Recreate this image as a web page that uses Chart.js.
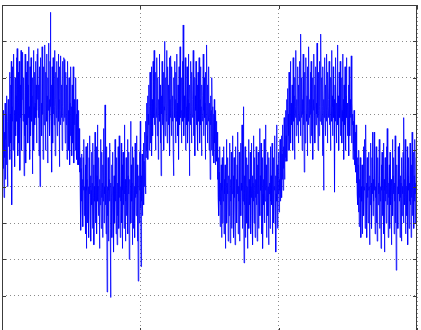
<!DOCTYPE html>
<html>
<head>
<meta charset="utf-8">
<script src="https://cdn.jsdelivr.net/npm/chart.js@4"></script>
<style>
  html, body { margin: 0; padding: 0; background: #fff; overflow: hidden; }
  #wrap { width: 421px; height: 330px; overflow: hidden; }
</style>
</head>
<body>
<div id="wrap"><canvas id="chart" width="421" height="337"></canvas></div>
<script>
// sample values (about three samples per pixel)
const signal = [
  4.8, 5.7, 4.0, 6.1, 4.5, 5.2, 3.7, 5.5, 4.8, 6.3, 4.2, 5.3, 6.0, 4.6, 6.5, 4.9, 4.0, 5.8, 6.4, 5.1,
  6.4, 5.7, 7.15, 4.75, 6.0, 6.8, 5.2, 7.45, 3.5, 6.2, 5.8, 7.3, 5.0, 6.3, 7.65, 5.9, 6.1, 4.55, 7.0, 6.2,
  5.4, 6.5, 7.55, 5.8, 7.8, 6.0, 4.85, 7.15, 6.3, 5.2, 7.45, 6.1, 4.45, 6.8, 5.9, 7.75, 6.2, 5.0, 6.4, 7.3,
  7.7, 5.8, 6.2, 7.0, 4.3, 6.0, 5.4, 7.65, 6.4, 4.65, 7.15, 6.1, 5.7, 7.45, 6.3, 5.2, 6.8, 7.85, 5.9, 6.2,
  4.75, 7.3, 6.0, 5.4, 7.55, 6.4, 5.8, 6.5, 4.35, 7.0, 6.1, 7.75, 5.0, 6.2, 7.15, 5.7, 6.3, 7.45, 5.9, 6.8,
  5.2, 6.1, 7.65, 6.4, 7.8, 5.9, 6.8, 4.85, 7.3, 6.2, 4.0, 6.5, 7.55, 5.8, 6.3, 5.4, 7.85, 6.0, 7.0, 4.75,
  6.4, 7.3, 5.7, 6.2, 7.9, 6.0, 5.0, 7.15, 6.3, 7.65, 5.8, 6.5, 4.65, 7.0, 6.1, 7.95, 5.9, 6.4, 5.4, 7.45,
  8.8, 6.2, 5.8, 6.8, 4.4, 7.3, 6.3, 5.2, 7.55, 6.0, 6.5, 5.7, 7.75, 6.2, 4.85, 7.15, 6.4, 5.9, 7.45, 6.1,
  5.4, 7.0, 6.2, 7.65, 5.8, 6.4, 4.55, 7.3, 6.1, 5.7, 7.6, 6.3, 5.9, 6.8, 5.0, 7.45, 6.2, 5.8, 6.5, 7.55,
  7.5, 5.9, 6.3, 5.2, 7.15, 6.0, 5.7, 6.8, 4.75, 6.4, 7.45, 5.8, 6.1, 5.0, 7.0, 6.0, 4.6, 6.3, 5.4, 7.3,
  5.8, 6.2, 4.85, 6.8, 6.0, 5.2, 7.3, 5.9, 4.65, 6.4, 5.7, 6.1, 5.0, 7.0, 5.4, 6.0, 4.75, 6.4, 4.6, 5.8,
  5.3, 6.1, 4.6, 5.6, 4.4, 5.2, 4.0, 4.8, 2.8, 4.5, 3.6, 4.9, 3.3, 4.2, 2.9, 4.8, 3.9, 5.3, 3.2, 4.0,
  3.6, 4.6, 2.7, 5.1, 2.3, 3.9, 4.2, 3.0, 5.2, 3.7, 4.0, 2.6, 4.8, 3.8, 5.4, 3.2, 4.3, 2.5, 3.9, 4.95,
  3.5, 4.1, 2.85, 5.2, 3.7, 4.6, 2.4, 4.0, 3.6, 5.5, 3.0, 4.2, 3.9, 5.1, 2.7, 4.3, 5.7, 3.6, 4.0, 3.2,
  4.8, 3.8, 2.3, 4.2, 3.5, 5.3, 3.9, 2.85, 4.95, 3.7, 4.1, 2.6, 4.6, 3.6, 5.6, 3.0, 4.0, 3.8, 6.25, 3.5,
  4.3, 2.7, 5.1, 3.8, 1.1, 4.0, 3.2, 4.8, 2.5, 3.9, 4.2, 3.6, 5.2, 2.85, 0.95, 4.1, 3.7, 4.6, 2.6, 3.8,
  4.95, 3.5, 4.0, 2.2, 4.3, 3.9, 3.0, 5.3, 3.6, 4.2, 2.7, 4.8, 3.8, 2.4, 4.1, 3.2, 5.1, 3.9, 2.85, 5.4,
  3.7, 4.3, 2.6, 4.0, 3.6, 5.2, 3.0, 4.6, 2.3, 3.9, 4.95, 3.5, 4.1, 2.85, 5.7, 3.8, 4.2, 2.5, 3.6, 4.8,
  3.2, 4.0, 3.7, 5.3, 2.7, 4.3, 3.8, 4.95, 2.0, 3.5, 4.2, 3.9, 5.8, 3.0, 4.6, 3.6, 4.1, 2.4, 5.1, 3.9,
  2.85, 4.8, 3.6, 4.0, 2.6, 5.2, 3.7, 4.2, 3.2, 5.4, 3.8, 4.6, 2.5, 4.1, 1.4, 3.6, 4.3, 3.0, 4.95, 3.9,
  5.8, 3.4, 1.8, 4.3, 3.6, 4.9, 3.2, 4.2, 3.9, 5.2, 3.5, 4.7, 4.0, 5.5, 4.6, 3.8, 5.8, 4.8, 6.3, 5.0,
  5.4, 6.5, 4.75, 6.0, 5.7, 6.8, 5.0, 6.2, 7.15, 5.2, 6.1, 5.8, 7.3, 4.85, 6.4, 6.0, 5.4, 7.45, 6.2, 5.9,
  7.75, 5.7, 6.5, 6.0, 5.0, 7.15, 6.2, 5.9, 7.55, 5.4, 6.3, 7.0, 4.75, 6.4, 6.0, 7.65, 5.8, 6.8, 5.2, 6.1,
  4.3, 6.5, 6.0, 7.45, 5.7, 6.3, 5.9, 7.15, 5.0, 6.2, 8.0, 6.1, 5.4, 7.0, 6.3, 5.8, 7.75, 6.0, 5.2, 7.3,
  6.2, 5.7, 6.8, 6.0, 7.55, 4.85, 6.4, 5.9, 7.6, 6.2, 5.4, 7.3, 6.1, 5.8, 6.5, 5.0, 4.3, 7.0, 6.3, 7.45,
  5.9, 6.4, 5.2, 7.15, 6.1, 7.65, 5.8, 6.3, 5.4, 6.8, 6.0, 4.75, 7.3, 6.2, 5.7, 7.85, 6.4, 5.9, 6.1, 5.2,
  7.0, 6.0, 7.45, 5.8, 8.45, 6.3, 5.4, 6.5, 6.1, 5.9, 7.55, 5.0, 6.8, 6.2, 5.7, 7.3, 6.0, 5.2, 6.4, 7.65,
  5.8, 6.3, 4.3, 6.8, 6.1, 5.7, 7.45, 6.2, 5.2, 7.15, 6.0, 5.9, 6.4, 7.75, 5.4, 6.2, 5.8, 7.0, 4.85, 6.5,
  6.1, 7.45, 5.7, 6.3, 5.9, 6.8, 5.0, 7.15, 6.2, 5.8, 7.55, 6.0, 5.2, 6.4, 7.3, 5.7, 6.2, 4.85, 6.8, 6.0,
  5.8, 6.5, 7.65, 5.4, 6.1, 7.0, 5.9, 6.3, 4.75, 7.15, 6.0, 5.7, 7.9, 6.2, 5.2, 6.8, 6.0, 5.8, 7.3, 5.0,
  6.3, 5.9, 4.2, 6.5, 5.7, 6.1, 5.0, 7.0, 5.8, 4.85, 6.2, 5.4, 6.0, 4.65, 6.4, 5.2, 5.9, 4.6, 6.1, 5.0,
  5.8, 4.7, 5.5, 4.2, 5.1, 3.7, 4.8, 3.2, 4.4, 3.6, 5.1, 2.9, 4.1, 3.5, 4.6, 2.6, 3.9, 4.8, 3.0, 4.0,
  3.6, 5.1, 2.7, 4.2, 3.8, 4.6, 2.3, 4.0, 3.5, 5.3, 3.0, 4.1, 3.8, 4.8, 2.5, 3.7, 4.3, 3.2, 5.2, 3.9,
  2.45, 4.2, 3.6, 4.95, 2.85, 4.0, 3.8, 5.4, 3.2, 4.3, 2.6, 4.8, 3.7, 4.1, 2.4, 3.9, 5.1, 3.5, 4.2, 3.0,
  4.6, 3.8, 5.5, 2.7, 4.0, 3.6, 4.95, 2.5, 4.2, 3.7, 5.2, 3.2, 4.1, 3.9, 5.7, 2.85, 4.6, 3.6, 6.2, 3.8,
  1.9, 4.3, 3.5, 5.1, 2.6, 4.1, 3.8, 4.8, 3.0, 4.0, 2.3, 4.6, 3.6, 5.3, 2.85, 4.2, 3.9, 3.5, 4.95, 2.7,
  4.0, 3.7, 5.2, 3.2, 4.3, 2.4, 4.1, 3.6, 5.4, 3.0, 4.8, 3.9, 2.6, 4.2, 3.7, 5.1, 3.5, 4.0, 2.5, 4.6,
  3.8, 4.95, 2.85, 4.1, 3.6, 5.6, 3.2, 4.3, 3.9, 5.2, 2.7, 4.0, 3.7, 4.8, 2.3, 3.8, 4.2, 3.5, 5.3, 3.0,
  4.1, 3.6, 5.7, 3.9, 4.6, 2.6, 4.2, 3.7, 4.95, 3.2, 4.0, 2.4, 4.8, 3.8, 4.1, 2.85, 5.1, 3.6, 4.3, 3.9,
  3.5, 5.2, 2.7, 4.2, 3.7, 4.8, 3.0, 4.0, 3.9, 5.4, 3.2, 4.3, 2.2, 3.8, 5.7, 3.6, 4.6, 2.85, 4.1, 3.8,
  4.95, 3.3, 4.2, 3.9, 5.3, 3.6, 4.6, 4.0, 5.4, 3.7, 4.9, 4.2, 5.7, 3.9, 5.1, 4.5, 5.9, 4.2, 5.5, 4.7,
  6.1, 4.8, 5.4, 6.4, 4.7, 5.7, 6.7, 5.0, 6.0, 5.4, 7.15, 5.0, 6.2, 5.9, 7.45, 5.2, 6.3, 6.0, 5.7, 6.8,
  6.1, 5.0, 7.55, 6.0, 5.8, 6.5, 4.75, 7.0, 6.2, 5.9, 7.75, 5.4, 6.4, 6.0, 5.7, 7.3, 6.2, 5.2, 6.8, 6.1,
  5.8, 7.45, 6.3, 5.4, 8.2, 6.1, 5.9, 7.0, 5.0, 6.4, 6.0, 7.65, 5.7, 6.3, 4.4, 7.15, 6.1, 5.2, 6.8, 7.55,
  6.0, 5.8, 6.5, 4.85, 7.3, 6.2, 5.7, 7.85, 6.1, 5.9, 6.4, 5.2, 7.15, 6.0, 7.45, 5.4, 6.3, 5.9, 7.0, 4.75,
  6.4, 6.1, 7.65, 5.8, 6.8, 5.2, 6.2, 7.3, 5.7, 6.3, 6.0, 7.95, 5.9, 6.4, 5.0, 7.15, 6.1, 5.4, 7.45, 6.2,
  5.8, 6.5, 8.2, 6.0, 5.7, 7.0, 6.2, 4.85, 7.3, 6.1, 3.9, 6.4, 5.9, 7.55, 6.0, 5.4, 6.8, 6.3, 5.8, 7.65,
  6.1, 5.2, 7.15, 6.2, 5.9, 6.4, 7.45, 5.7, 6.3, 6.0, 5.0, 7.0, 6.1, 7.75, 5.8, 6.5, 5.4, 6.2, 7.3, 5.9,
  6.4, 6.0, 3.85, 6.8, 5.8, 7.55, 6.2, 5.2, 6.3, 6.0, 7.9, 5.7, 6.5, 6.1, 5.0, 7.15, 6.2, 5.9, 7.45, 5.4,
  6.3, 6.0, 7.0, 5.2, 6.1, 7.65, 5.8, 6.4, 4.75, 6.8, 6.0, 5.7, 7.3, 6.2, 5.0, 6.5, 7.55, 5.9, 6.3, 5.4,
  6.2, 5.8, 6.8, 4.85, 7.3, 6.0, 5.4, 6.4, 5.9, 6.1, 7.6, 5.2, 6.3, 5.7, 6.0, 4.75, 5.8, 5.0, 6.1, 4.6,
  5.8, 4.7, 5.5, 4.4, 5.7, 4.1, 5.1, 3.8, 4.8, 3.5, 4.6, 3.3, 5.0, 2.9, 4.2, 3.7, 4.8, 3.0, 2.6, 4.0,
  3.6, 4.6, 2.7, 4.2, 3.8, 5.1, 3.2, 4.0, 3.9, 5.3, 2.85, 4.3, 5.7, 3.6, 4.1, 2.6, 4.8, 3.7, 4.2, 3.0,
  4.95, 3.9, 4.0, 2.4, 4.3, 3.5, 5.2, 3.7, 4.1, 2.85, 4.8, 3.8, 5.5, 3.2, 4.2, 3.6, 5.5, 3.9, 4.6, 2.7,
  4.0, 3.7, 5.1, 3.0, 4.2, 2.5, 3.9, 4.8, 3.5, 4.1, 3.8, 5.3, 2.85, 4.3, 3.6, 4.0, 2.3, 4.6, 3.9, 4.95,
  3.2, 4.1, 3.7, 5.2, 2.7, 4.2, 2.2, 3.9, 4.8, 3.6, 4.0, 3.0, 5.1, 3.8, 5.6, 3.5, 4.3, 2.6, 4.1, 3.7,
  4.6, 2.85, 4.95, 3.9, 3.5, 4.2, 2.4, 4.0, 3.7, 5.3, 3.2, 4.3, 3.8, 4.8, 2.7, 4.1, 3.6, 5.4, 3.0, 4.2,
  1.7, 3.9, 4.6, 3.5, 4.0, 2.85, 5.1, 3.8, 4.2, 3.6, 5.2, 2.6, 4.3, 3.7, 4.1, 2.5, 4.8, 3.2, 4.0, 3.8,
  4.95, 3.0, 5.9, 3.7, 4.2, 3.5, 5.3, 2.7, 4.6, 3.8, 4.0, 3.2, 5.1, 2.4, 4.3, 3.9, 4.8, 2.85, 4.1, 3.6,
  5.2, 3.5, 4.2, 2.6, 4.6, 3.7, 5.5, 3.2, 4.0, 3.9, 4.95, 2.85, 4.3, 3.6, 5.3, 3.0, 4.1, 3.8, 4.8, 3.5,
  4.2
];

// axis limits / grid steps
const xLimits = [0, 1200];
const xStep = 400;
const yLimits = [0, 9];
const yStep = 1;

const points = signal.map((v, i) => ({ x: i, y: v }));

// box round the axes with small inward ticks, like matlab
const boxPlugin = {
  id: 'box',
  afterDraw(chart) {
    const { ctx, chartArea: a, scales } = chart;
    ctx.save();
    ctx.strokeStyle = '#3c3c3c';
    ctx.lineWidth = 1;
    ctx.strokeRect(a.left + 0.5, a.top + 0.5, a.right - a.left - 1, a.bottom - a.top);
    ctx.beginPath();
    const len = 4;
    scales.y.ticks.forEach(t => {
      const y = Math.round(scales.y.getPixelForValue(t.value)) + 0.5;
      ctx.moveTo(a.left, y); ctx.lineTo(a.left + len, y);
      ctx.moveTo(a.right, y); ctx.lineTo(a.right - len, y);
    });
    scales.x.ticks.forEach(t => {
      const x = Math.round(scales.x.getPixelForValue(t.value)) + 0.5;
      ctx.moveTo(x, a.top); ctx.lineTo(x, a.top + len);
      ctx.moveTo(x, a.bottom); ctx.lineTo(x, a.bottom - len);
    });
    ctx.stroke();
    ctx.restore();
  }
};

const ctx = document.getElementById('chart').getContext('2d');
new Chart(ctx, {
  type: 'line',
  data: {
    datasets: [{
      data: points,
      borderColor: '#0000ff',
      borderWidth: 0.8,
      pointRadius: 0,
      tension: 0,
      fill: false
    }]
  },
  options: {
    responsive: false,
    animation: false,
    devicePixelRatio: 1,
    layout: { padding: { left: 2, top: 5, right: 4, bottom: 5 } },
    plugins: { legend: { display: false }, tooltip: { enabled: false } },
    scales: {
      x: {
        type: 'linear',
        min: xLimits[0], max: xLimits[1],
        ticks: { display: false, stepSize: xStep },
        grid: { color: '#8a8a8a', drawTicks: false },
        border: { display: false, dash: [1, 3] }
      },
      y: {
        min: yLimits[0], max: yLimits[1],
        ticks: { display: false, stepSize: yStep },
        grid: { color: '#8a8a8a', drawTicks: false },
        border: { display: false, dash: [1, 3] }
      }
    }
  },
  plugins: [boxPlugin]
});
</script>
</body>
</html>
